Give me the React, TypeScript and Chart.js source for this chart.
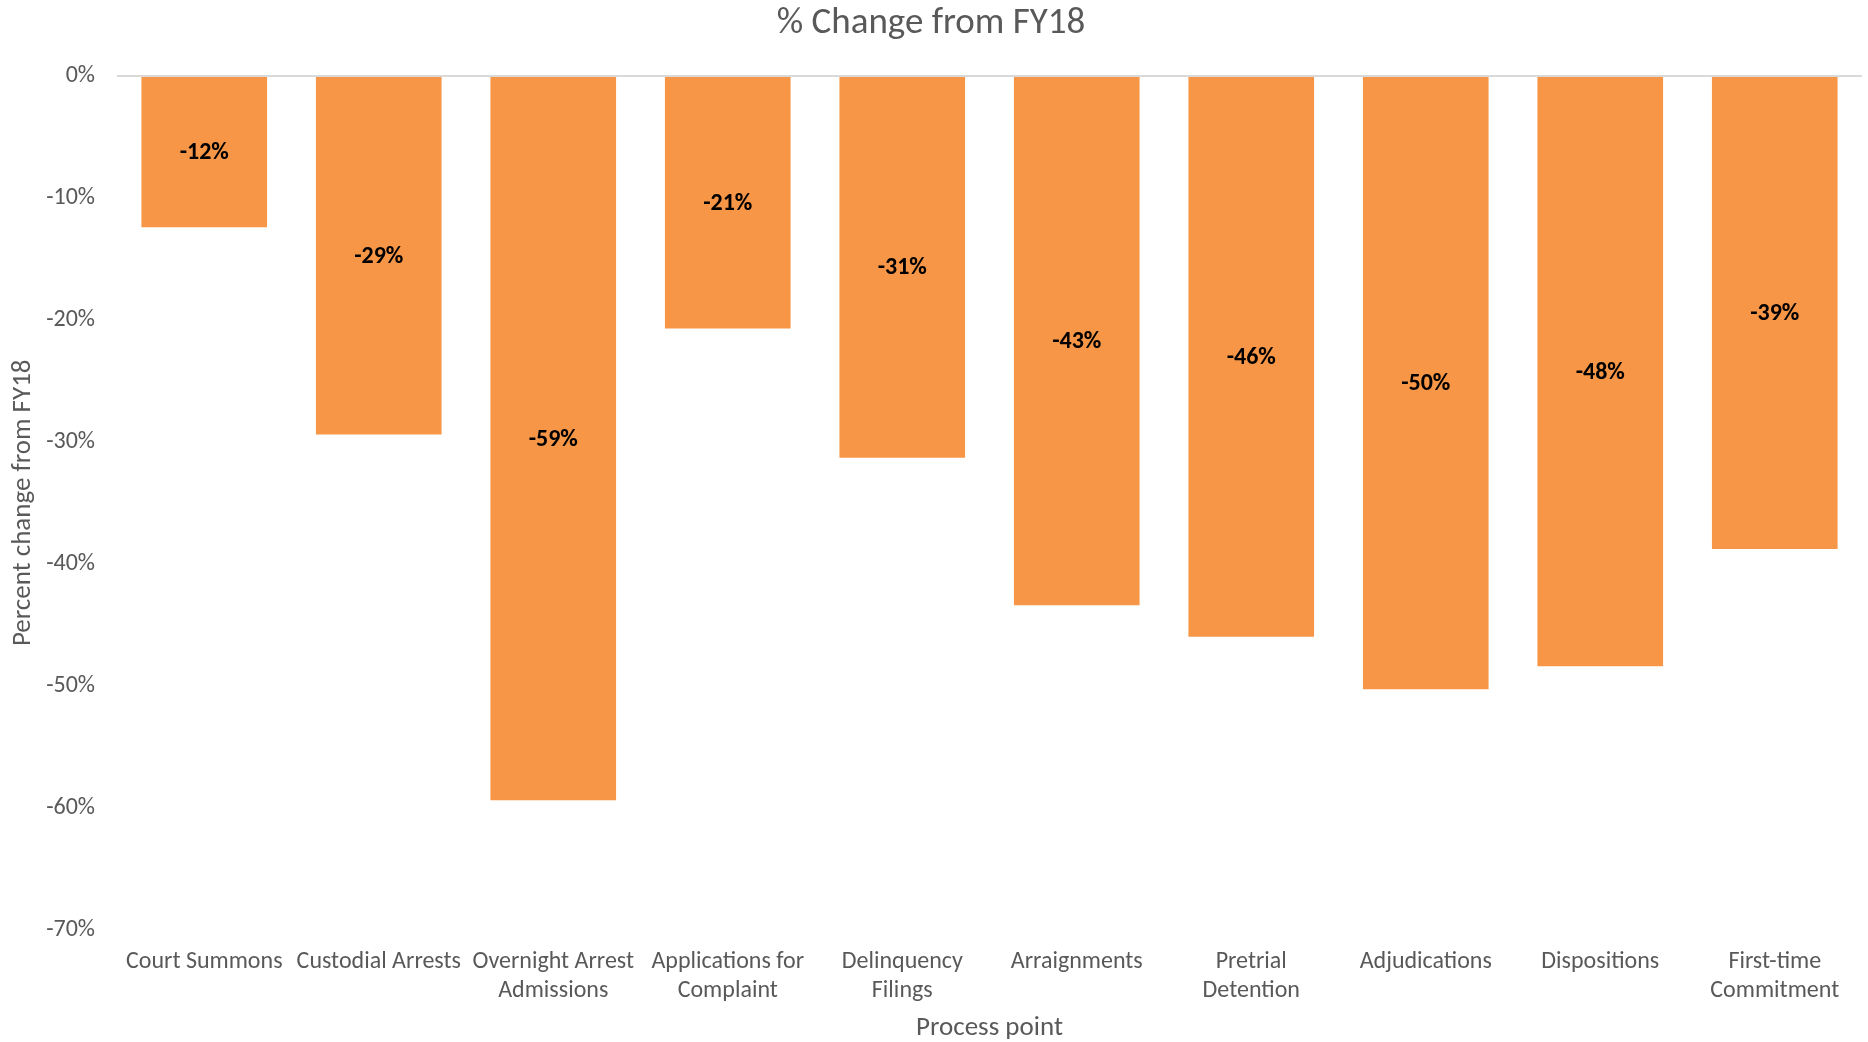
import React, { useEffect, useRef } from "react";
import { Chart, registerables } from "chart.js";

Chart.register(...registerables);

const categories: (string | string[])[] = [
  "Court Summons",
  "Custodial Arrests",
  ["Overnight Arrest", "Admissions"],
  ["Applications for", "Complaint"],
  ["Delinquency", "Filings"],
  "Arraignments",
  ["Pretrial", "Detention"],
  "Adjudications",
  "Dispositions",
  ["First-time", "Commitment"],
];

const percentChange: number[] = [-12.4, -29.4, -59.4, -20.7, -31.3, -43.4, -46.0, -50.3, -48.4, -38.8];

const yTickValues: number[] = [0, -10, -20, -30, -40, -50, -60, -70];

const chartTitle = "% Change from FY18";
const yAxisTitle = "Percent change from FY18";
const xAxisTitle = "Process point";

const FONT = "Carlito, Calibri, Lato, sans-serif";
const GRAY = "#595959";
const ORANGE = "#F79646";

const W = 1868;
const H = 1042;

export default function App() {
  const ref = useRef<HTMLCanvasElement | null>(null);

  useEffect(() => {
    if (!ref.current) return;

    const titlePlugin = {
      id: "customTitle",
      afterDraw(chart: any) {
        const ctx = chart.ctx;
        ctx.save();
        ctx.font = `37px ${FONT}`;
        ctx.fillStyle = GRAY;
        ctx.textAlign = "center";
        ctx.textBaseline = "middle";
        ctx.fillText(chartTitle, W / 2 - 3, 24);
        ctx.restore();
      },
    };

    const dataLabelPlugin = {
      id: "barCenterLabels",
      afterDatasetsDraw(chart: any) {
        const ctx = chart.ctx;
        const meta = chart.getDatasetMeta(0);
        ctx.save();
        ctx.font = `bold 24px ${FONT}`;
        ctx.fillStyle = "#000000";
        ctx.textAlign = "center";
        ctx.textBaseline = "middle";
        meta.data.forEach((bar: any, i: number) => {
          const { x, y, base } = bar.getProps(["x", "y", "base"], true);
          const v = chart.data.datasets[0].data[i] as number;
          ctx.fillText(`${Math.round(v)}%`, x, (y + base) / 2 + 1);
        });
        ctx.restore();
      },
    };

    const chart = new Chart(ref.current, {
      type: "bar",
      data: {
        labels: categories,
        datasets: [
          {
            data: percentChange,
            backgroundColor: ORANGE,
            borderWidth: 0,
            barPercentage: 0.72,
            categoryPercentage: 1.0,
          },
        ],
      },
      options: {
        responsive: false,
        animation: false,
        devicePixelRatio: 1,
        layout: { padding: { top: 76, left: 0, right: 6, bottom: 0 } },
        plugins: {
          legend: { display: false },
          title: { display: false },
          tooltip: { enabled: false },
        },
        scales: {
          x: {
            afterFit(scale: any) {
              scale.height = 112.5;
            },
            grid: { display: false, drawTicks: false },
            border: { display: false },
            ticks: {
              color: GRAY,
              font: { family: FONT, size: 24, lineHeight: "29px" },
              padding: 18,
              maxRotation: 0,
              autoSkip: false,
            },
            title: {
              display: true,
              text: xAxisTitle,
              color: GRAY,
              font: { family: FONT, size: 27 },
              padding: { top: 0, bottom: -2 },
            },
          },
          y: {
            min: -70,
            max: 0,
            afterFit(scale: any) {
              scale.width = 117;
            },
            afterBuildTicks(scale: any) {
              scale.ticks = yTickValues.map((v) => ({ value: v }));
            },
            grid: {
              drawTicks: false,
              color: (c: any) => (c.tick && c.tick.value === 0 ? "#D9D9D9" : "rgba(0,0,0,0)"),
              lineWidth: 2,
            },
            border: { display: false },
            ticks: {
              color: GRAY,
              font: { family: FONT, size: 24 },
              padding: 22,
              callback: (v: any) => `${v}%`,
            },
            title: {
              display: true,
              text: yAxisTitle,
              color: GRAY,
              font: { family: FONT, size: 27 },
              padding: { top: 7, bottom: 0 },
            },
          },
        },
      },
      plugins: [titlePlugin, dataLabelPlugin],
    });

    return () => chart.destroy();
  }, []);

  return (
    <div style={{ position: "absolute", left: 0, top: 0, width: W, height: H, background: "#ffffff" }}>
      <canvas ref={ref} width={W} height={H} style={{ display: "block", width: W, height: H }} />
    </div>
  );
}
